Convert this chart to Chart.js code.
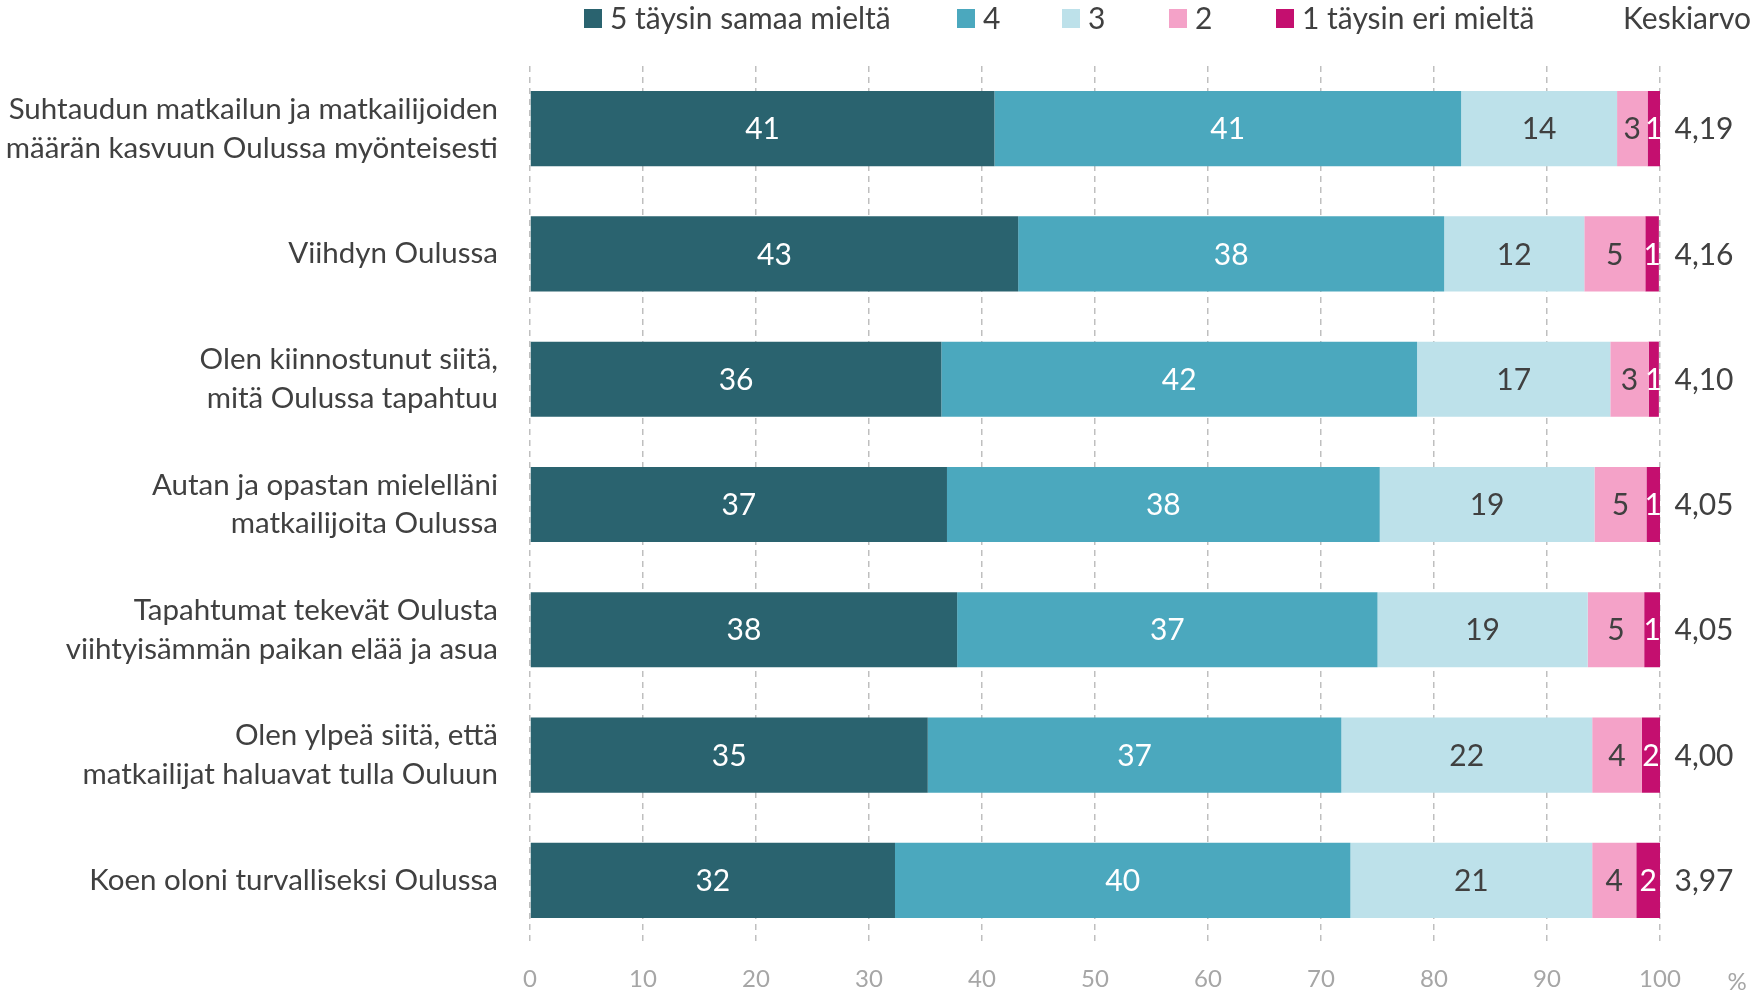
<!DOCTYPE html>
<html>
<head>
<meta charset="utf-8">
<script src="https://cdn.jsdelivr.net/npm/chart.js@4.4.1/dist/chart.umd.min.js"></script>
<style>
  html, body { margin: 0; padding: 0; background: #ffffff; }
  #wrap { width: 1751px; height: 992px; }
</style>
</head>
<body>
<div id="wrap"><canvas id="likertChart" width="1751" height="992"></canvas></div>
<script>
// statements (multi-line labels)
const statements = [
    ['Suhtaudun matkailun ja matkailijoiden', 'määrän kasvuun Oulussa myönteisesti'],
    'Viihdyn Oulussa',
    ['Olen kiinnostunut siitä,', 'mitä Oulussa tapahtuu'],
    ['Autan ja opastan mielelläni', 'matkailijoita Oulussa'],
    ['Tapahtumat tekevät Oulusta', 'viihtyisämmän paikan elää ja asua'],
    ['Olen ylpeä siitä, että', 'matkailijat haluavat tulla Ouluun'],
    'Koen oloni turvalliseksi Oulussa'
];

// shares in %
const agree5    = [41.1, 43.2, 36.4, 36.9, 37.8, 35.2, 32.3];
const agree4    = [41.3, 37.7, 42.1, 38.3, 37.2, 36.6, 40.3];
const neutral3  = [13.8, 12.4, 17.1, 19.0, 18.6, 22.2, 21.4];
const disagree2 = [2.7, 5.4, 3.4, 4.6, 5.0, 4.4, 3.9];
const disagree1 = [1.1, 1.2, 0.9, 1.2, 1.4, 1.6, 2.1];

const averages = [4.19, 4.16, 4.10, 4.05, 4.05, 4.00, 3.97];

const seriesNames = ['5 täysin samaa mieltä', '4', '3', '2', '1 täysin eri mieltä'];
const seriesColors = ['#2a636f', '#4ba8be', '#bde1ea', '#f4a2c8', '#c40f6f'];
const labelColors = ['#ffffff', '#ffffff', '#404040', '#404040', '#ffffff'];

const FONT = 'Lato';
const textColor = '#404040';

// draws segment values, legend, averages column and the % unit
const extrasPlugin = {
    id: 'extras',
    afterDatasetsDraw(chart) {
        const ctx = chart.ctx;
        ctx.save();
        ctx.font = '30px ' + FONT;
        ctx.textAlign = 'center';
        ctx.textBaseline = 'middle';
        chart.data.datasets.forEach(function(ds, i) {
            const meta = chart.getDatasetMeta(i);
            meta.data.forEach(function(bar, j) {
                const cx = (bar.x + bar.base) / 2;
                ctx.fillStyle = labelColors[i];
                ctx.fillText(Math.round(ds.data[j]), cx, bar.y + 1);
            });
        });
        ctx.restore();
    },
    afterDraw(chart) {
        const ctx = chart.ctx;
        ctx.save();
        ctx.textBaseline = 'middle';
        // legend
        const legendX = [584, 957, 1062, 1169, 1276];
        ctx.font = '30px ' + FONT;
        seriesNames.forEach(function(name, i) {
            ctx.fillStyle = seriesColors[i];
            ctx.fillRect(legendX[i], 9, 18, 19);
            ctx.fillStyle = textColor;
            ctx.textAlign = 'left';
            ctx.fillText(name, legendX[i] + 26, 19);
        });
        ctx.textAlign = 'right';
        ctx.fillText('Keskiarvo', 1751, 19);

        // averages
        const yScale = chart.scales.y;
        ctx.textAlign = 'center';
        averages.forEach(function(v, j) {
            ctx.fillText(v.toFixed(2).replace('.', ','), 1704, yScale.getPixelForValue(j) + 1);
        });

        // unit
        ctx.fillStyle = '#a6a6a6';
        ctx.font = '24px ' + FONT;
        ctx.fillText('%', 1737, 982);
        ctx.restore();
    }
};

const ctx = document.getElementById('likertChart').getContext('2d');
const likertChart = new Chart(ctx, {
    type: 'bar',
    data: {
        labels: statements,
        datasets: [agree5, agree4, neutral3, disagree2, disagree1].map(function(values, i) {
            return {
                label: seriesNames[i],
                data: values,
                backgroundColor: seriesColors[i],
                borderWidth: 0,
                barPercentage: 0.6,
                categoryPercentage: 1.0
            };
        })
    },
    options: {
        indexAxis: 'y',
        responsive: false,
        animation: false,
        devicePixelRatio: 1,
        layout: {
            padding: { top: 66, right: 91, bottom: 0, left: 0 }
        },
        plugins: {
            legend: { display: false },
            tooltip: { enabled: false }
        },
        scales: {
            x: {
                stacked: true,
                min: 0,
                max: 100,
                ticks: {
                    stepSize: 10,
                    color: '#a6a6a6',
                    font: { family: FONT, size: 24 },
                    padding: 22
                },
                grid: {
                    color: '#bfbfbf',
                    lineWidth: 1.5,
                    drawTicks: false
                },
                border: { display: false, dash: [6, 5] },
                afterFit: function(scale) { scale.height = 49; }
            },
            y: {
                stacked: true,
                ticks: {
                    color: textColor,
                    font: { family: FONT, size: 29.5, lineHeight: 1.32 },
                    padding: 32
                },
                grid: { display: false, drawTicks: false },
                border: { display: false },
                afterFit: function(scale) {
                    scale.width = 530;
                    scale.paddingTop = 0;
                    scale.paddingBottom = 0;
                }
            }
        }
    },
    plugins: [extrasPlugin]
});
</script>
</body>
</html>
